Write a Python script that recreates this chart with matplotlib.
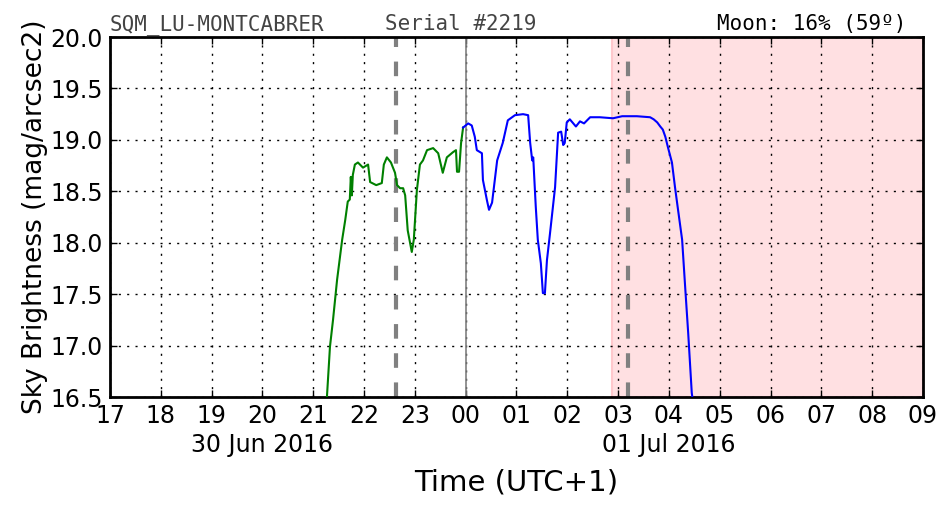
import numpy as np
import matplotlib
matplotlib.use('Agg')
import matplotlib.pyplot as plt
import matplotlib.transforms as mtransforms

# Time in hours after 00:00 of 30 Jun 2016 (values > 24 are on 01 Jul)
green_t = [21.27, 21.33, 21.39, 21.47, 21.57, 21.63, 21.68, 21.72, 21.74, 21.76,
           21.78, 21.82, 21.88, 21.98, 22.08, 22.12, 22.24, 22.35, 22.39, 22.45,
           22.53, 22.61, 22.65, 22.71, 22.77, 22.81, 22.86, 22.94, 22.98, 23.04,
           23.10, 23.16, 23.24, 23.36, 23.46, 23.55, 23.63, 23.75, 23.81, 23.83,
           23.87, 23.91, 23.95]
green_m = [16.50, 16.99, 17.25, 17.64, 18.03, 18.22, 18.40, 18.42, 18.64, 18.46,
           18.66, 18.76, 18.78, 18.73, 18.76, 18.59, 18.56, 18.58, 18.76, 18.83,
           18.78, 18.68, 18.56, 18.53, 18.53, 18.46, 18.12, 17.91, 18.03, 18.51,
           18.76, 18.80, 18.90, 18.92, 18.87, 18.68, 18.83, 18.88, 18.90, 18.69,
           18.69, 18.97, 19.12]

blue_t = [23.95, 24.05, 24.12, 24.18, 24.22, 24.32, 24.34, 24.42, 24.46, 24.52,
          24.62, 24.73, 24.83, 24.97, 25.13, 25.23, 25.27, 25.31, 25.33, 25.38,
          25.42, 25.48, 25.52, 25.56, 25.60, 25.66, 25.76, 25.82, 25.88, 25.92,
          25.95, 25.99, 26.05, 26.17, 26.25, 26.33, 26.45, 26.64, 26.90, 27.08,
          27.37, 27.63, 27.70, 27.77, 27.83, 27.88, 27.93, 27.98, 28.06, 28.12,
          28.18, 28.26, 28.32, 28.38, 28.45, 28.47]
blue_m = [19.12, 19.16, 19.14, 19.03, 18.90, 18.87, 18.61, 18.41, 18.32, 18.39,
          18.80, 18.97, 19.19, 19.24, 19.25, 19.24, 18.97, 18.80, 18.83, 18.35,
          18.03, 17.80, 17.51, 17.51, 17.83, 18.09, 18.54, 19.07, 19.08, 18.95,
          18.97, 19.17, 19.20, 19.13, 19.18, 19.16, 19.22, 19.22, 19.21, 19.23,
          19.23, 19.22, 19.20, 19.17, 19.13, 19.10, 19.03, 18.93, 18.78, 18.54,
          18.32, 18.03, 17.57, 17.12, 16.54, 16.47]

midnight = 24.0
dashed_lines = [22.63, 27.20]
moon_span = [26.88, 33.0]

hours = np.arange(17, 34)
hour_labels = ['%02d' % (h % 24) for h in hours]
date_labels = [(20, '30 Jun 2016'), (28, '01 Jul 2016')]

plt.rcParams['font.family'] = 'DejaVu Sans'
fig = plt.figure(figsize=(9.52, 5.12), dpi=100)
ax = fig.add_axes([0.1155, 0.2246, 0.854, 0.7031])

ax.axvspan(moon_span[0], moon_span[1], facecolor='#ffe0e2', edgecolor='#ffc8cc',
           linewidth=1.5, zorder=0)
ax.plot(green_t, green_m, color='green', linewidth=1.5, zorder=3)
ax.plot(blue_t, blue_m, color='blue', linewidth=1.5, zorder=3)
ax.axvline(midnight, color='gray', linewidth=1.2, zorder=2)
for t in dashed_lines:
    ax.axvline(t, color='gray', linewidth=3, linestyle=(0, (3.5, 3.5)), zorder=2)

ax.set_xlim(17, 33)
ax.set_ylim(16.5, 20.0)
ax.set_xticks(hours)
ax.set_xticklabels(hour_labels)
ax.set_yticks(np.arange(16.5, 20.01, 0.5))
ax.set_yticklabels(['%.1f' % v for v in np.arange(16.5, 20.01, 0.5)])
ax.grid(True, color='black', linestyle=(0, (1.5, 4.5)), linewidth=1)
ax.tick_params(direction='in', top=True, right=True, length=5, width=1,
               labelsize=17, pad=5)
for s in ax.spines.values():
    s.set_linewidth(2)

trans = mtransforms.blended_transform_factory(ax.transData, fig.transFigure)
for h, lab in date_labels:
    ax.text(h, 0.107, lab, transform=trans, ha='center', va='bottom', fontsize=17)

ax.set_ylabel('Sky Brightness (mag/arcsec2)', fontsize=19, labelpad=2)
fig.text(0.5425, 0.058, 'Time (UTC+1)', fontsize=21, ha='center', va='center')

fig.text(0.1155, 0.942, 'SQM_LU-MONTCABRER', family='DejaVu Sans Mono',
         fontsize=15, color='#444444')
fig.text(0.404, 0.942, 'Serial #2219', family='DejaVu Sans Mono',
         fontsize=15, color='#444444')
fig.text(0.952, 0.942, 'Moon: 16% (59º)', family='DejaVu Sans Mono',
         fontsize=15, color='black', ha='right')

fig.savefig('out.png', dpi=100)
